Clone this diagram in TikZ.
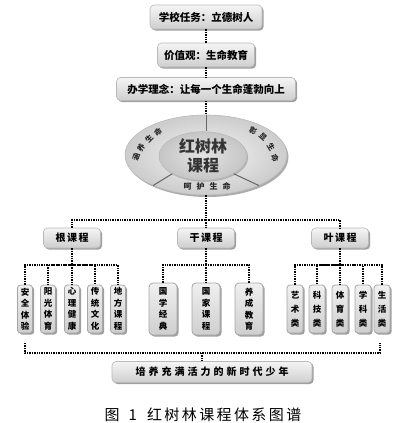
\documentclass[tikz,border=0pt]{standalone}
\usepackage{fontspec}
\newfontfamily\cjk{Noto Sans CJK SC}
\newfontfamily\cjkmid{Noto Sans CJK SC}[LetterSpace=15]
\newfontfamily\cjkbot{Noto Sans CJK SC}[LetterSpace=30]
\newfontfamily\cjkcap{Noto Sans CJK SC}[LetterSpace=16]
\usetikzlibrary{shadows,shapes.geometric}
\begin{document}
\begin{tikzpicture}[x=1pt,y=-1pt,
  conn/.style={line width=1.4pt, dash pattern=on 1.4pt off 1pt},
  divline/.style={line width=1pt, draw=gray!80!black},
  boxshadow/.style={drop shadow={shadow xshift=1.6pt,shadow yshift=-1.6pt,fill=gray!75,opacity=1}},
  topbox/.style={draw=gray!55, line width=0.6pt, rounded corners=4pt, top color=gray!8, bottom color=gray!38,
    boxshadow, inner sep=0pt, font=\cjk\bfseries\fontsize{10.5}{12}\selectfont},
  midbox/.style={topbox, minimum width=57pt, minimum height=20pt, font=\cjkmid\bfseries\fontsize{10}{12}\selectfont},
  leafbox/.style={draw=gray!70, line width=0.8pt, rounded corners=3pt, top color=gray!12, bottom color=gray!38,
    boxshadow, inner sep=0pt, align=center, font=\cjk\bfseries\fontsize{8.5}{11.5}\selectfont},
  rleaf/.style={leafbox, minimum width=15pt, minimum height=48pt},
  tleaf/.style={leafbox, minimum width=28pt, minimum height=52pt, rounded corners=4pt},
  yleaf/.style={leafbox, minimum width=16pt, minimum height=48pt, font=\cjk\bfseries\fontsize{8.5}{14}\selectfont},
  arclab/.style={inner sep=0pt, font=\cjk\bfseries\fontsize{7.5}{8}\selectfont, text=black!85}
]
\useasboundingbox (0,0) rectangle (400,423);

% top boxes
\node[topbox, minimum width=112pt, minimum height=24pt] (b1) at (206,17) {学校任务：立德树人};
\node[topbox, minimum width=97pt, minimum height=24pt] (b2) at (206,55) {价值观：生命教育};
\node[topbox, minimum width=179pt, minimum height=23pt] (b3) at (206,89) {办学理念：让每一个生命蓬勃向上};
\draw[conn] (b1) -- (b2);
\draw[conn] (b2) -- (b3);

% ellipse
\node[ellipse, draw=gray!55, line width=0.6pt, inner color=gray!8, outer color=gray!40,
  minimum width=162pt, minimum height=80pt,
  drop shadow={shadow xshift=1.5pt,shadow yshift=-2pt,fill=gray!65,opacity=1}] (out) at (206,155) {};
\draw[conn] (b3) -- (out.north);
\node[ellipse, draw=gray!55, line width=0.6pt, inner color=gray!22, outer color=gray!45,
  minimum width=88pt, minimum height=48pt, inner sep=0pt, align=center,
  drop shadow={shadow xshift=1.2pt,shadow yshift=-1.5pt,fill=gray!60,opacity=1},
  font=\cjk\bfseries\fontsize{16}{19}\selectfont, text=black!80] (in) at (203,156) {红树林\\课程};
\draw[divline] (out.north) -- (out.north |- in.north);
\draw[divline] (in.-150) -- (out.-150);
\draw[divline] (in.-30) -- (out.-30);

% arc labels
\node[arclab, rotate=72] (l1) at (136,157) {涵};
\node[arclab, rotate=60] (l2) at (141,148) {养};
\node[arclab, rotate=46] (l3) at (149,139) {生};
\node[arclab, rotate=32] (l4) at (158,132) {命};
\node[arclab, rotate=-30] (l5) at (253,131) {彰};
\node[arclab, rotate=-42] (l6) at (263,137) {显};
\node[arclab, rotate=-58] (l7) at (271,147) {生};
\node[arclab, rotate=-72] (l8) at (275,158) {命};
\node[arclab, font=\cjk\bfseries\fontsize{8}{9}\selectfont] (l9) at (207,186)
  {呵\hspace{5pt}护\hspace{5pt}生\hspace{5pt}命};

% middle level
\coordinate (j0) at (206,220);
\node[midbox] (gen) at (72,238) {根课程};
\node[midbox] (gan) at (206,238) {干课程};
\node[midbox] (ye) at (340,238) {叶课程};
\draw[conn] (out.south) -- (j0);
\draw[conn] (gen.north) |- (j0) -| (ye.north);
\draw[conn] (j0) -- (gan.north);

% root leaves
\node[rleaf] (r1) at (25,309) {安\\全\\体\\验};
\node[rleaf] (r2) at (48,309) {阳\\光\\体\\育};
\node[rleaf] (r3) at (72,309) {心\\理\\健\\康};
\node[rleaf] (r4) at (95,309) {传\\统\\文\\化};
\node[rleaf] (r5) at (118,309) {地\\方\\课\\程};
\coordinate (jg) at (72,265);
\draw[conn] (gen.south) -- (jg);
\draw[conn] (r1.north) |- (jg) -| (r5.north);
\draw[conn] (jg) -| (r2.north);
\draw[conn] (jg) -| (r4.north);
\draw[conn] (jg) -- (r3.north);

% trunk leaves
\node[tleaf] (t1) at (163,309) {国\\学\\经\\典};
\node[tleaf] (t2) at (206,309) {国\\家\\课\\程};
\node[tleaf] (t3) at (249,309) {养\\成\\教\\育};
\coordinate (jt) at (206,265);
\draw[conn] (gan.south) -- (jt);
\draw[conn] (t1.north) |- (jt) -| (t3.north);
\draw[conn] (jt) -- (t2.north);

% leaf leaves
\node[yleaf] (y1) at (295,309) {艺\\术\\类};
\node[yleaf] (y2) at (317,309) {科\\技\\类};
\node[yleaf] (y3) at (340,309) {体\\育\\类};
\node[yleaf] (y4) at (363,309) {学\\科\\类};
\node[yleaf] (y5) at (382,309) {生\\活\\类};
\coordinate (jy) at (340,265);
\draw[conn] (ye.south) -- (jy);
\draw[conn] (y1.north) |- (jy) -| (y5.north);
\draw[conn] (jy) -| (y2.north);
\draw[conn] (jy) -| (y4.north);
\draw[conn] (jy) -- (y3.north);

% bottom
\node[topbox, minimum width=200pt, minimum height=21pt, font=\cjkbot\bfseries\fontsize{10}{12}\selectfont] (bot) at (212,372) {培养充满活力的新时代少年};
\coordinate (tl) at (25,343);
\coordinate (tr) at (380,343);
\coordinate (jb) at (202,353);
\draw[conn] (tl) |- (jb) -| (tr);
\draw[conn] (jb) -- (jb |- bot.north);

% caption
\node[font=\cjk\fontsize{15}{17}\selectfont, text=black, inner sep=0pt] (cap) at (203,415)
  {图\hspace{9pt}1\hspace{10pt}{\cjkcap 红树林课程体系图谱}};
\end{tikzpicture}
\end{document}
